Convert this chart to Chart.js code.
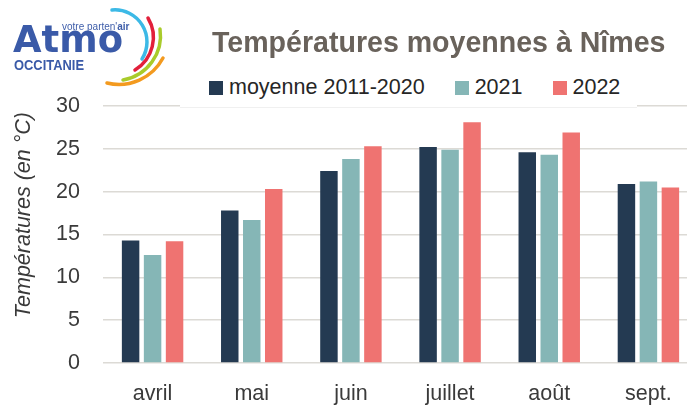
<!DOCTYPE html>
<html lang="fr">
<head>
<meta charset="utf-8">
<title>Températures moyennes à Nîmes</title>
<script src="https://cdn.jsdelivr.net/npm/chart.js@4.4.1/dist/chart.umd.min.js"></script>
<style>
  html, body { margin: 0; padding: 0; background: #fff; overflow: hidden; }
  #wrap { position: relative; width: 687px; height: 405px; overflow: hidden; }
  #chartBox { position: absolute; left: 0; top: 0; width: 710px; height: 420px; }
  #logo { position: absolute; left: 0; top: 0; }
  #title {
    position: absolute; left: 212px; top: 25px; margin: 0;
    font: bold 30px "Liberation Sans", Arial, sans-serif; color: #69625b;
    white-space: nowrap; transform: scaleX(0.952); transform-origin: left top;
  }
  #legend {
    position: absolute; left: 180px; top: 68px; width: 457px; height: 39px;
    background: #fff; border-bottom: 1px solid #f0f0f0;
  }
  #legend ul { list-style: none; margin: 0; padding: 0 0 0 29px; display: flex; gap: 30px; }
  #legend li { display: flex; align-items: center; height: 39px; margin-top: 0;
    font: 21.5px "Liberation Sans", Arial, sans-serif; color: #262626; white-space: nowrap; }
  #legend li span.box { display: inline-block; width: 14px; height: 14px; margin-right: 6px; }
</style>
</head>
<body>
<div id="wrap">
  <div id="chartBox"><canvas id="chartTemp" width="710" height="420"></canvas></div>

  <svg id="logo" width="180" height="100" viewBox="0 0 180 100">
    <text x="62" y="30" font-family="Liberation Sans, Arial, sans-serif" font-size="10" fill="#3f5eaa">votre parten'<tspan font-weight="bold">air</tspan></text>
    <text x="13" y="52" font-family="DejaVu Sans, sans-serif" font-weight="bold" font-size="37" fill="#3a5aa8" textLength="110" lengthAdjust="spacingAndGlyphs">Atmo</text>
    <text x="14" y="70" font-family="Liberation Sans, Arial, sans-serif" font-weight="bold" font-size="15" fill="#3a5aa8" textLength="70" lengthAdjust="spacingAndGlyphs">OCCITANIE</text>
    <g fill="none" stroke-width="3.5" stroke-linecap="round">
      <path d="M112 10 A32 32 0 0 1 142 59" stroke="#3cb9e6"/>
      <path d="M148 18 A38 38 0 0 1 135 70" stroke="#e2203b"/>
      <path d="M160 29 A45 45 0 0 1 123 80" stroke="#a9cb2b"/>
      <path d="M163 58 A50 50 0 0 1 107 83" stroke="#f39a1f"/>
    </g>
  </svg>

  <h1 id="title">Températures moyennes à Nîmes</h1>
  <div id="legend"></div>
</div>

<script>
// ── Données : températures moyennes mensuelles (°C) ───────────
const mois      = ['avril', 'mai', 'juin', 'juillet', 'août', 'sept.'];
const moyenne   = [14.3, 17.8, 22.4, 25.2, 24.6, 20.9];   // moyenne 2011-2020
const annee2021 = [12.6, 16.7, 23.8, 24.9, 24.3, 21.2];
const annee2022 = [14.2, 20.3, 25.3, 28.1, 26.9, 20.5];
const yTicks    = [0, 5, 10, 15, 20, 25, 30];

const police = '"Liberation Sans", Arial, sans-serif';
const txt    = '#3a3a3a';

// ── Légende HTML (générée depuis les datasets) ────────────────
const htmlLegend = {
    id: 'htmlLegend',
    afterUpdate(chart) {
        const el = document.getElementById('legend');
        const items = chart.options.plugins.legend.labels.generateLabels(chart);
        el.innerHTML = '<ul>' + items.map(it =>
            `<li><span class="box" style="background:${it.fillStyle}"></span>${it.text}</li>`
        ).join('') + '</ul>';
    }
};

const ctx = document.getElementById('chartTemp');
new Chart(ctx, {
    type: 'bar',
    data: {
        labels: mois,
        datasets: [
            { label: 'moyenne 2011-2020', data: moyenne,   backgroundColor: '#243a52' },
            { label: '2021',              data: annee2021, backgroundColor: '#85b6b6' },
            { label: '2022',              data: annee2022, backgroundColor: '#ef7371' },
        ],
    },
    options: {
        responsive: false,
        animation: false,
        devicePixelRatio: 1,
        layout: { padding: { top: 106, right: 12, bottom: 0, left: 0 } },
        datasets: { bar: { categoryPercentage: 0.665, barPercentage: 0.795, borderWidth: 0 } },
        plugins: {
            legend: { display: false },
            tooltip: { enabled: false },
        },
        scales: {
            x: {
                grid: { display: false, drawTicks: false },
                border: { display: false },
                ticks: { color: txt, font: { family: police, size: 21.5 }, padding: 18 },
                afterFit: s => { s.height = 57; },
            },
            y: {
                min: 0, max: 30,
                afterBuildTicks: s => { s.ticks = yTicks.map(v => ({ value: v })); },
                grid: { color: '#dcdad5', lineWidth: 1.5, drawTicks: false },
                border: { display: false },
                ticks: { color: txt, font: { family: police, size: 21.5 }, padding: 23 },
                title: {
                    display: true,
                    text: 'Températures (en °C) ',
                    align: 'end',
                    color: txt,
                    font: { family: police, size: 21.5, style: 'italic' },
                    padding: { top: 11, bottom: 0 },
                },
                afterFit: s => { s.width = 103; },
            },
        },
    },
    plugins: [htmlLegend],
});
</script>
</body>
</html>
